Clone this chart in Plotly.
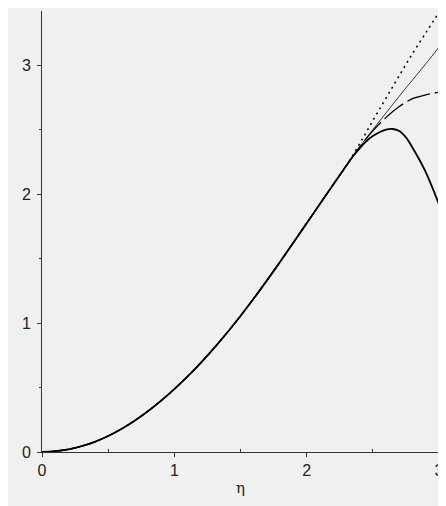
import plotly.graph_objects as go

# shared low-eta part of all four curves
eta_base = [0.0, 0.1, 0.2, 0.3, 0.4, 0.5, 0.6, 0.7, 0.8, 0.9, 1.0, 1.1, 1.2,
            1.3, 1.4, 1.5, 1.6, 1.7, 1.8, 1.9, 2.0, 2.1, 2.2, 2.3]
y_base = [0.0, 0.006, 0.021, 0.045, 0.079, 0.124, 0.179, 0.243, 0.316, 0.398, 0.488,
          0.586, 0.692, 0.806, 0.927, 1.055, 1.190, 1.331, 1.476, 1.624, 1.774,
          1.924, 2.073, 2.221]

# tails where the curves separate
eta_tail = [2.4, 2.5, 2.6, 2.7, 2.8, 2.9, 3.0]
y_dotted = [2.39, 2.57, 2.745, 2.92, 3.09, 3.25, 3.41]
y_thin = [2.365, 2.50, 2.63, 2.76, 2.885, 3.01, 3.14]
y_dashed = [2.365, 2.49, 2.595, 2.68, 2.74, 2.77, 2.79]

eta_thick = [2.35, 2.4, 2.45, 2.5, 2.55, 2.6, 2.65, 2.7, 2.75, 2.8, 2.85, 2.9, 2.95, 3.0]
y_thick = [2.293, 2.355, 2.41, 2.45, 2.48, 2.50, 2.505, 2.49, 2.44, 2.36, 2.27, 2.17, 2.05, 1.92]

x_ticks = [0, 1, 2, 3]
y_ticks = [0, 1, 2, 3]

fig = go.Figure()

def add(xs, ys, width, dash, color="black"):
    fig.add_trace(go.Scatter(x=xs, y=ys, mode="lines",
                             line=dict(color=color, width=width, dash=dash, shape="spline"),
                             showlegend=False, hoverinfo="skip", cliponaxis=False))

add(eta_base + eta_tail, y_base + y_dotted, 1.5, "2px,4px")
add(eta_base + eta_tail, y_base + y_thin, 0.9, "solid", "#222")
add(eta_base + eta_tail, y_base + y_dashed, 1.3, "24px,5px")
add(eta_base + eta_thick, y_base + y_thick, 1.8, "solid")

# page has an 8px body margin, so the figure sits at (8, 8) in the window
W, H = 438, 498
L, R, T, B = 34, 7, 3, 54

font = dict(family="Liberation Sans Narrow, Liberation Sans, Arial", size=16, color="#222")

fig.update_layout(
    width=W, height=H,
    margin=dict(l=L, r=R, t=T, b=B),
    paper_bgcolor="#f0f0f0",
    plot_bgcolor="#f0f0f0",
    xaxis=dict(range=[0, 3], tickvals=x_ticks, ticktext=[str(v) for v in x_ticks],
               automargin=False,
               showgrid=False, zeroline=False, showline=True, linecolor="#333",
               linewidth=1, ticks="outside", ticklen=4, tickcolor="#333",
               tickfont=font,
               minor=dict(tickvals=[0.5, 1.5, 2.5], ticks="inside", ticklen=3, tickcolor="#333"),
               title=dict(text="η", font=dict(family="DejaVu Serif", size=15, color="#222"), standoff=4)),
    yaxis=dict(range=[0, 3.42], tickvals=y_ticks, ticktext=[str(v) for v in y_ticks],
               automargin=False,
               showgrid=False, zeroline=False, showline=True, linecolor="#333",
               linewidth=1, ticks="outside", ticklen=4, tickcolor="#333",
               tickfont=font, ticklabelstandoff=3,
               minor=dict(tickvals=[0.5, 1.5, 2.5], ticks="outside", ticklen=2, tickcolor="#333")),
)

fig.write_html("out.html")
